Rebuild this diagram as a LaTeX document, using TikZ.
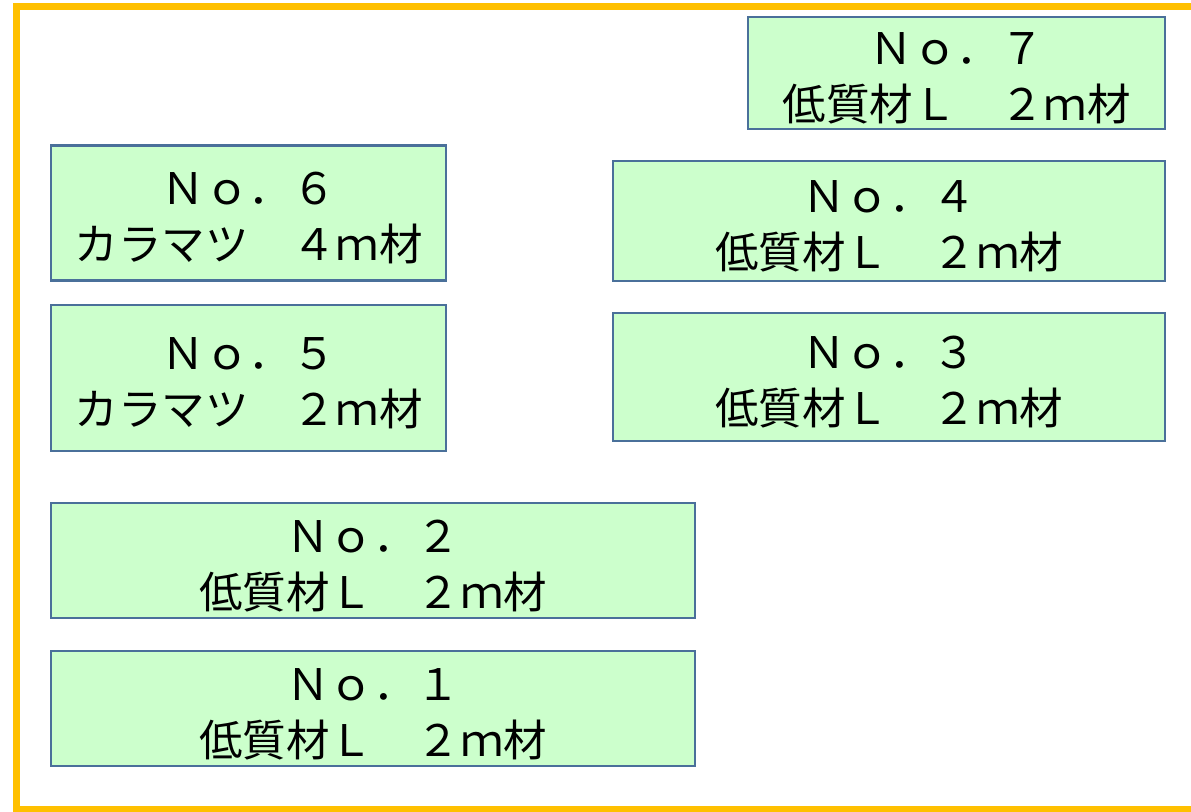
\documentclass[tikz,border=0pt]{standalone}
\usepackage{fontspec}
\newfontfamily\jpfont{Noto Sans CJK JP}
\definecolor{framecol}{RGB}{255,192,0}
\definecolor{boxline}{RGB}{74,112,154}
\definecolor{boxfill}{RGB}{204,255,204}
\tikzset{
  log/.style={draw=boxline, line width=2.5pt, fill=boxfill, rectangle,
    inner sep=0pt, align=center, font=\jpfont\fontsize{43.5}{56}\selectfont,
    text height=100pt, text depth=5pt},
}
\begin{document}
\begin{tikzpicture}[x=1pt, y=-1pt]
      \useasboundingbox (0,0) rectangle (1191,811);
      % frame
      \draw[framecol, line width=7pt] (1200,6.5) -- (16.5,6.5) -- (16.5,809.5) -- (1200,809.5);
      % logs
      \node[log, minimum width=417pt, minimum height=112pt] (7) at (956.5,73) {Ｎｏ．７\\低質材Ｌ　２ｍ材};
      \node[log, minimum width=395pt, minimum height=135pt] (6) at (248.5,213) {Ｎｏ．６\\カラマツ　４ｍ材};
      \node[log, minimum width=552pt, minimum height=120pt] (4) at (889,221) {Ｎｏ．４\\低質材Ｌ　２ｍ材};
      \node[log, minimum width=395pt, minimum height=146pt] (5) at (248.5,378) {Ｎｏ．５\\カラマツ　２ｍ材};
      \node[log, minimum width=552pt, minimum height=128pt] (3) at (889,377) {Ｎｏ．３\\低質材Ｌ　２ｍ材};
      \node[log, minimum width=644pt, minimum height=115pt] (2) at (373,560.5) {Ｎｏ．２\\低質材Ｌ　２ｍ材};
      \node[log, minimum width=644pt, minimum height=115pt] (1) at (373,708.5) {Ｎｏ．１\\低質材Ｌ　２ｍ材};
    \end{tikzpicture}
\end{document}
